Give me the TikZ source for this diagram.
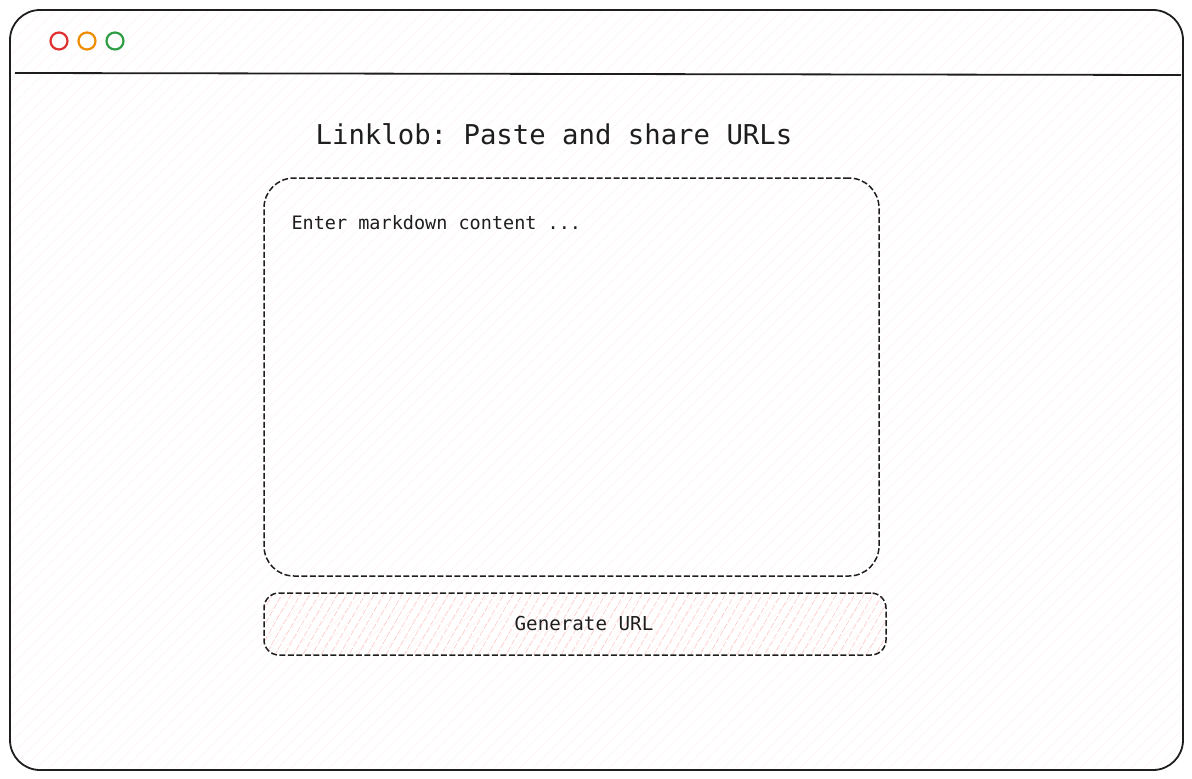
\documentclass[tikz,border=0pt]{standalone}
\usepackage{fontspec}
\setmonofont{DejaVu Sans Mono}
\usetikzlibrary{patterns.meta}
\definecolor{ink}{HTML}{1E1E1E}
\definecolor{dotred}{HTML}{E03131}
\definecolor{dotorange}{HTML}{F08C00}
\definecolor{dotgreen}{HTML}{2F9E44}

\begin{document}
\begin{tikzpicture}[%
	x=1pt, y=-1pt,
	font=\ttfamily,
	window/.style={draw=ink, line width=1.8pt, rounded corners=30pt,
		minimum width=1173pt, minimum height=760pt,
		pattern={Lines[angle=45,distance=9pt,line width=0.5pt]}, pattern color=red!6},
	dot/.style={draw=#1, line width=2.2pt, circle, minimum size=17pt, inner sep=0pt},
	heading/.style={font=\ttfamily\fontsize{27.3}{32}\selectfont, text=ink},
	editor/.style={draw=ink, line width=1.5pt, dash pattern=on 6pt off 2.5pt,
		rounded corners=30pt, minimum width=615pt, minimum height=398pt},
	hint/.style={font=\ttfamily\fontsize{18.5}{22}\selectfont, text=ink, anchor=west},
	btn/.style={draw=ink, line width=1.5pt, dash pattern=on 6pt off 2.5pt,
		rounded corners=15pt, minimum width=622pt, minimum height=62pt,
		pattern={Lines[angle=60,distance=8pt,line width=0.6pt]}, pattern color=red!22},
	btntext/.style={font=\ttfamily\fontsize{19.2}{22}\selectfont, text=ink}
]

\useasboundingbox (0,0) rectangle (1192,779);

\node[window] (win) at (596.5,390) {};

\node[dot=dotred]    (red)    at (59,41) {};
\node[dot=dotorange] (orange) at (87,41) {};
\node[dot=dotgreen]  (green)  at (115,41) {};

\coordinate (barL) at (15,73);
\coordinate (barR) at (1181,75);
\draw[ink, line width=1.8pt] (barL) -- (barR);

\node[heading] (title) at (554,134) {Linklob: Paste and share URLs};

\node[editor] (area) at (571.5,377) {};
\node[hint] (hint) at (288,223) {Enter markdown content ...};

\node[btn] (gen) at (575,624) {};
\node[btntext] (genlabel) at ([xshift=9pt]gen.center) {Generate URL};

\end{tikzpicture}
\end{document}
